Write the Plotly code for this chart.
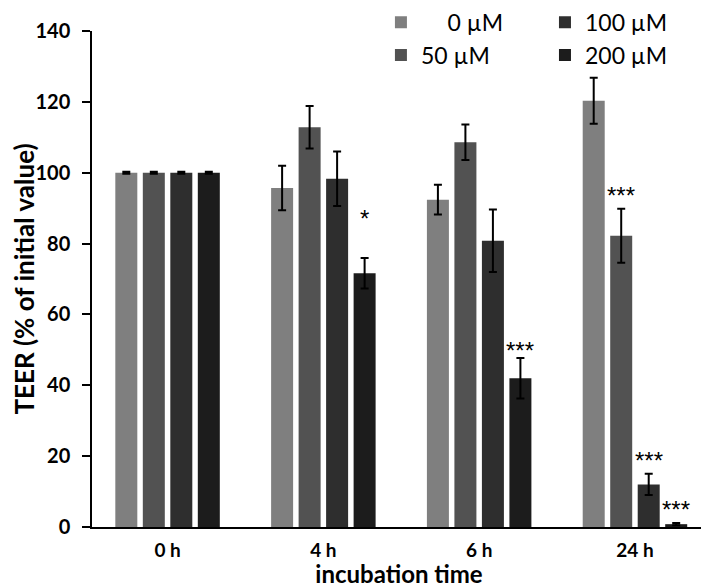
import plotly.graph_objects as go

categories = ["0 h", "4 h", "6 h", "24 h"]
series_names = ["\u2007\u20070 µM", "50 µM", "100 µM", "200 µM"]
colors = ["#7f7f7f", "#525252", "#2e2e2e", "#1c1c1c"]

v_0uM = [100, 95.7, 92.4, 120.3]
e_0uM = [0.3, 6.3, 4.2, 6.5]
v_50uM = [100, 112.8, 108.6, 82.2]
e_50uM = [0.3, 6.0, 5.0, 7.6]
v_100uM = [100, 98.3, 80.8, 12.0]
e_100uM = [0.3, 7.7, 8.8, 3.0]
v_200uM = [100, 71.6, 42.0, 0.8]
e_200uM = [0.3, 4.3, 5.7, 0.3]

values = [v_0uM, v_50uM, v_100uM, v_200uM]
errors = [e_0uM, e_50uM, e_100uM, e_200uM]

# significance marks: (series index, category index, label)
sig_marks = [(3, 1, "*"), (3, 2, "***"), (1, 3, "***"), (2, 3, "***"), (3, 3, "***")]
sig_yshift = [24, -8, -2, -2, -2]  # pixel nudges for the mark labels

# page body has an 8px margin, so the figure is sized to fill the remaining window
W, H = 701, 580
ML, MR, MT, MB = 84, 3, 23, 61
XRANGE = [-0.485, 3.456]
BARGAP, GROUPGAP = 0.294, 0.2

fig = go.Figure()
legend_ids = ["legend", "legend", "legend2", "legend2"]
for i in range(4):
    fig.add_trace(go.Bar(
        x=categories, y=values[i], name=series_names[i],
        marker=dict(color=colors[i], line=dict(width=0)),
        error_y=dict(type="data", array=errors[i], visible=True,
                     color="black", thickness=2, width=4),
        legend=legend_ids[i], legendgroup=f"g{i}",
    ))

plot_w = W - ML - MR
cat_px = plot_w / (XRANGE[1] - XRANGE[0])
slot = cat_px * (1 - BARGAP) / 4
for (si, ci, lab), ys in zip(sig_marks, sig_yshift):
    fig.add_annotation(
        x=categories[ci], y=values[si][ci] + errors[si][ci],
        xref="x", yref="y", text=lab, showarrow=False,
        xshift=(si - 1.5) * slot, yanchor="bottom", yshift=ys,
        font=dict(family="Liberation Sans", size=24, color="black"),
    )

legend_common = dict(
    yref="paper", xref="container", y=1.061, yanchor="top",
    font=dict(family="Lato", size=23, color="black"),
    bgcolor="rgba(0,0,0,0)", tracegroupgap=0, orientation="v",
)

fig.update_layout(
    width=W, height=H,
    margin=dict(l=ML, r=MR, t=MT, b=MB, autoexpand=False),
    barmode="group", bargap=BARGAP, bargroupgap=GROUPGAP,
    plot_bgcolor="white", paper_bgcolor="white",
    showlegend=True,
    legend=dict(x=0.532, xanchor="left", **legend_common),
    legend2=dict(x=0.766, xanchor="left", **legend_common),
    font=dict(family="Lato", color="black"),
)

fig.update_yaxes(
    range=[0, 140], dtick=20, showgrid=False, zeroline=False,
    showline=True, linecolor="black", linewidth=1.5,
    ticks="outside", ticklen=8, tickwidth=1.5, tickcolor="black",
    ticklabelstandoff=8,
    tickfont=dict(family="Lato", size=20, color="black", weight="bold"),
    title=dict(text="<b>TEER (% of initial value)</b>",
               font=dict(family="Lato", size=26, color="black"), standoff=1),
)
fig.update_xaxes(
    range=XRANGE,
    showgrid=False, showline=True, linecolor="black", linewidth=1.5,
    ticks="outside", ticklen=5, tickcolor="rgba(0,0,0,0)",
    tickfont=dict(family="Lato", size=19, color="black", weight="bold"),
    title=dict(text="<b>incubation time</b>",
               font=dict(family="Lato", size=24, color="black"), standoff=3),
)

fig.write_html("out.html")
